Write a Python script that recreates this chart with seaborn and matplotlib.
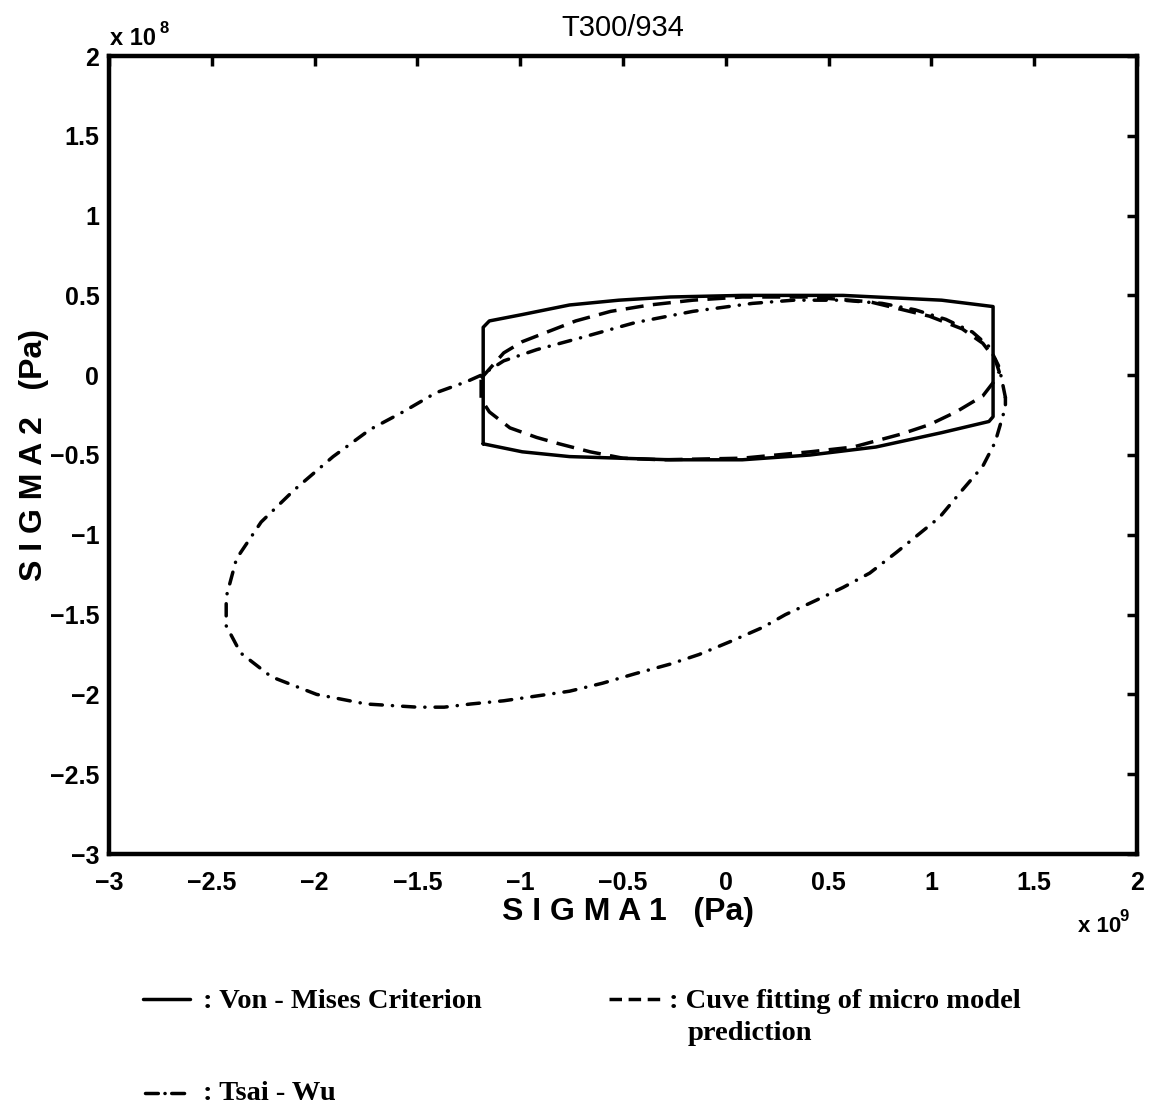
import numpy as np
import matplotlib
matplotlib.use("Agg")
import matplotlib.pyplot as plt
from matplotlib.lines import Line2D
from matplotlib.ticker import FuncFormatter
import seaborn as sns

# ---- data (SIGMA1 in 1e9 Pa, SIGMA2 in 1e8 Pa) ----
vm_x = [-1.18, -1.18, -1.15, -0.99, -0.76, -0.52, -0.27, 0.08, 0.57, 1.05, 1.30,
        1.30, 1.28, 1.05, 0.73, 0.41, 0.08, -0.27, -0.76, -0.99, -1.18]
vm_y = [-0.43, 0.30, 0.34, 0.38, 0.44, 0.47, 0.49, 0.50, 0.50, 0.47, 0.43,
        -0.26, -0.29, -0.36, -0.45, -0.50, -0.53, -0.53, -0.51, -0.48, -0.43]

mm_x = [-1.19, -1.08, -0.99, -0.87, -0.73, -0.56, -0.37, -0.16, 0.08, 0.41,
        0.70, 0.99, 1.15, 1.25, 1.31, 1.33, 1.31, 1.25, 1.12, 0.99,
        0.85, 0.62, 0.41, 0.08, -0.31, -0.50, -0.66, -0.81, -0.92, -1.05,
        -1.15, -1.19, -1.19, -1.19]
mm_y = [-0.02, 0.14, 0.21, 0.27, 0.34, 0.40, 0.44, 0.47, 0.49, 0.49,
        0.46, 0.37, 0.29, 0.20, 0.10, 0.02, -0.03, -0.13, -0.23, -0.31,
        -0.37, -0.45, -0.48, -0.52, -0.53, -0.52, -0.48, -0.43, -0.39, -0.33,
        -0.23, -0.15, -0.07, -0.02]

tw_x = [1.36, 1.33, 1.28, 1.20, 1.07, 0.92, 0.76, 0.57, 0.33, 0.13,
        -0.16, -0.44, -0.69, -0.92, -1.08, -1.19, -1.26, -1.41, -1.57, -1.73,
        -1.91, -2.10, -2.26, -2.38, -2.43, -2.43, -2.36, -2.21, -1.99, -1.75,
        -1.50, -1.37, -1.24, -1.08, -0.92, -0.76, -0.60, -0.44, -0.27, -0.13,
        0.02, 0.18, 0.29, 0.44, 0.57, 0.70, 0.83, 1.04, 1.15, 1.25,
        1.31, 1.36, 1.36]
tw_y = [-0.14, 0.05, 0.18, 0.27, 0.35, 0.41, 0.45, 0.47, 0.47, 0.45,
        0.40, 0.33, 0.24, 0.16, 0.09, 0.00, -0.04, -0.11, -0.23, -0.34,
        -0.51, -0.72, -0.92, -1.15, -1.39, -1.57, -1.74, -1.89, -2.00, -2.06,
        -2.08, -2.08, -2.06, -2.04, -2.01, -1.98, -1.93, -1.87, -1.81, -1.75,
        -1.67, -1.58, -1.50, -1.41, -1.33, -1.24, -1.11, -0.89, -0.72, -0.57,
        -0.42, -0.20, -0.14]

x_ticks = [-3, -2.5, -2, -1.5, -1, -0.5, 0, 0.5, 1, 1.5, 2]
y_ticks = [-3, -2.5, -2, -1.5, -1, -0.5, 0, 0.5, 1, 1.5, 2]

title = "T300/934"
xlabel = "S I G M A 1   (Pa)"
ylabel = "S I G M A 2   (Pa)"
legend_labels = [": Von - Mises Criterion", ": Cuve fitting of micro model",
                 "prediction", ": Tsai - Wu"]

# ---- style ----
sns.set_style("white")
plt.rcParams['font.family'] = ['Liberation Sans', 'DejaVu Sans']
plt.rcParams['text.color'] = 'black'
plt.rcParams['axes.labelcolor'] = 'black'
plt.rcParams['xtick.color'] = 'black'
plt.rcParams['ytick.color'] = 'black'

W, H = 1154, 1108
fig = plt.figure(figsize=(W / 100, H / 100), dpi=100)
ax = fig.add_axes([109 / W, 1 - 854 / H, (1137 - 109) / W, (854 - 56) / H])

LW = 2.5
sns.lineplot(x=vm_x, y=vm_y, sort=False, estimator=None, color="black",
             lw=LW, ax=ax)
sns.lineplot(x=mm_x, y=mm_y, sort=False, estimator=None, color="black",
             lw=LW, linestyle=(0, (5.2, 2.7)), ax=ax)
sns.lineplot(x=tw_x, y=tw_y, sort=False, estimator=None, color="black",
             lw=LW, linestyle=(0, (3.5, 2.9, 0.05, 2.9)),
             dash_capstyle="round", ax=ax)

ax.set_xlim(-3, 2)
ax.set_ylim(-3, 2)
ax.set_xticks(x_ticks)
ax.set_yticks(y_ticks)
fmt = FuncFormatter(lambda v, _: f"{v:g}".replace("-", "\u2212"))
ax.xaxis.set_major_formatter(fmt)
ax.yaxis.set_major_formatter(fmt)
ax.tick_params(axis="both", direction="in", length=7, width=2.5,
               top=True, right=True, labelsize=18, colors="black")
ax.tick_params(axis="x", pad=12)
ax.tick_params(axis="y", pad=7)
for lab in ax.get_xticklabels() + ax.get_yticklabels():
    lab.set_fontweight("bold")
for sp in ax.spines.values():
    sp.set_linewidth(3.2)
    sp.set_color("black")

ax.set_xlabel(xlabel, fontsize=23, fontweight="bold", color="black")
ax.set_ylabel(ylabel, fontsize=23, fontweight="bold", color="black")
ax.xaxis.set_label_coords(0.505, -0.054)
ax.yaxis.set_label_coords(-0.058, 0.5)

def px(x, y):
    return x / W, 1 - y / H

fig.text(*px(623, 36), title, fontsize=21, ha="center", va="baseline",
         color="black")

# exponent labels
fig.text(*px(110, 45), "x 10", fontsize=17, fontweight="bold", va="baseline")
fig.text(*px(160, 33), "8", fontsize=12, fontweight="bold", va="baseline")
fig.text(*px(1078, 932), "x 10", fontsize=16, fontweight="bold", va="baseline")
fig.text(*px(1119, 921), "9", fontsize=12, fontweight="bold", va="baseline")

# custom legend below the axes
serif = dict(family=["Liberation Serif", "DejaVu Serif"], fontsize=20.5,
             fontweight="bold", va="baseline", color="black")
fig.add_artist(Line2D([143 / W, 190 / W], [1 - 999 / H] * 2, color="black",
                      lw=LW, transform=fig.transFigure))
fig.text(*px(203, 1008), legend_labels[0], **serif)
fig.add_artist(Line2D([609 / W, 661 / W], [1 - 999 / H] * 2, color="black",
                      lw=LW, linestyle=(0, (3.6, 1.9)),
                      transform=fig.transFigure))
fig.text(*px(669, 1008), legend_labels[1], **serif)
fig.text(*px(688, 1040), legend_labels[2], **serif)
fig.add_artist(Line2D([145 / W, 188 / W], [1 - 1093 / H] * 2, color="black",
                      lw=LW, linestyle=(0, (3.7, 1.9, 0.05, 1.9)),
                      dash_capstyle="round", transform=fig.transFigure))
fig.text(*px(203, 1100), legend_labels[3], **serif)

fig.savefig("out.png", dpi=100, facecolor="white")
